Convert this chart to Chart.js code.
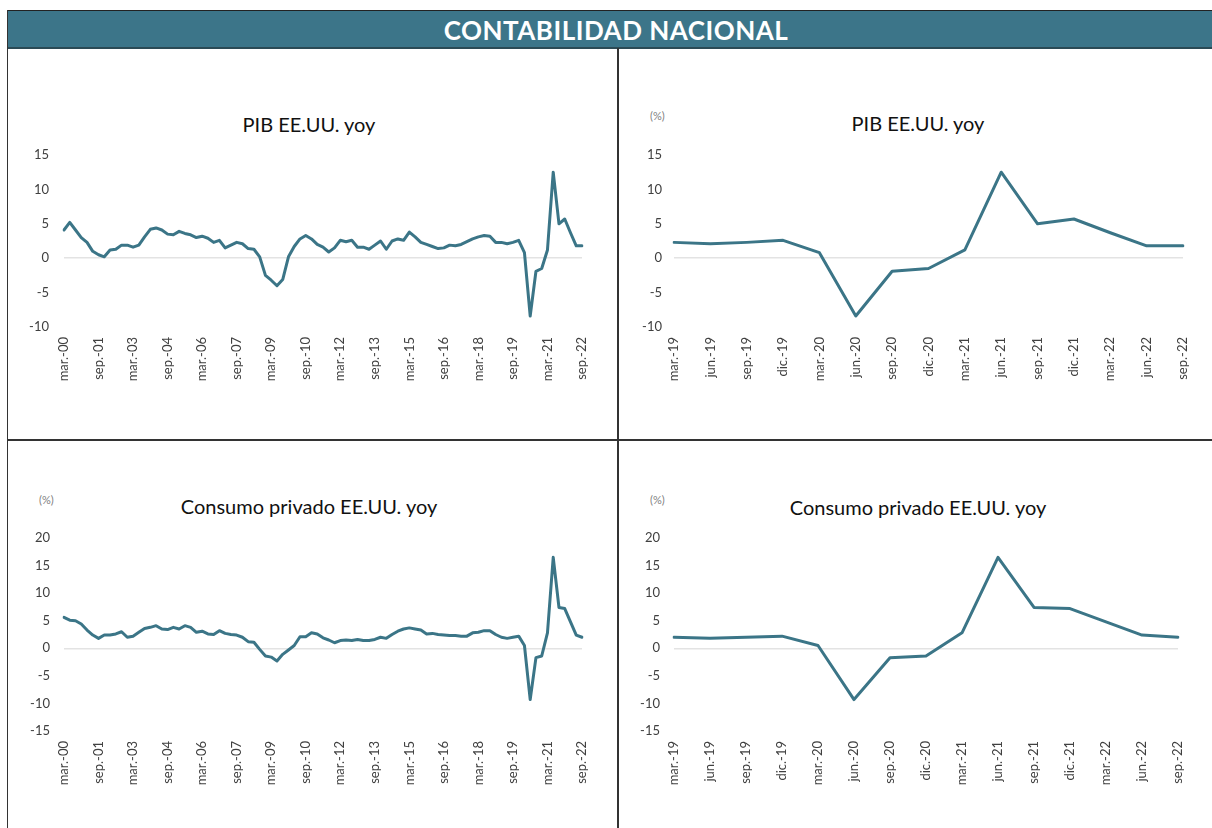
<!DOCTYPE html>
<html lang="es">
<head>
<meta charset="utf-8">
<title>Contabilidad nacional</title>
<script src="https://cdn.jsdelivr.net/npm/chart.js@4.4.0/dist/chart.umd.min.js"></script>
<style>
  body { margin: 0; width: 1212px; height: 828px; overflow: hidden; background: #fff; position: relative; font-family: Lato, "Open Sans", sans-serif; }
  .linea { position: absolute; background: #333; }
  .cabecera { position: absolute; left: 7px; top: 10px; width: 1218px; height: 36px; background: #3c7589;
    border-top: 1px solid #222; border-bottom: 2px solid #2b4a55; color: #fff; font-weight: 700; font-size: 26px;
    text-align: center; line-height: 38px; letter-spacing: 0.5px; }
  .titulo { position: absolute; width: 500px; text-align: center; font-size: 20px; color: #111; line-height: 22px; }
  .unidad { position: absolute; font-size: 11px; color: #7f7f7f; }
  canvas { position: absolute; }
</style>
</head>
<body>
<div class="cabecera">CONTABILIDAD NACIONAL</div>
<div class="linea" style="left:7px; top:10px; width:1px; height:818px;"></div>
<div class="linea" style="left:617px; top:48px; width:2px; height:780px;"></div>
<div class="linea" style="left:7px; top:439px; width:1205px; height:2px;"></div>

<div class="titulo" style="left:59px; top:113px;">PIB EE.UU. yoy</div>
<div class="titulo" style="left:668px; top:112px;">PIB EE.UU. yoy</div>
<div class="unidad" style="left:650px; top:109px;">(%)</div>
<div class="titulo" style="left:59px; top:495px;">Consumo privado EE.UU. yoy</div>
<div class="unidad" style="left:39px; top:493px;">(%)</div>
<div class="titulo" style="left:668px; top:496px;">Consumo privado EE.UU. yoy</div>
<div class="unidad" style="left:650px; top:493px;">(%)</div>

<canvas id="pibLargo" width="608" height="390" style="left:9px; top:49px;"></canvas>
<canvas id="pibCorto" width="592" height="390" style="left:620px; top:49px;"></canvas>
<canvas id="consumoLargo" width="608" height="386" style="left:9px; top:442px;"></canvas>
<canvas id="consumoCorto" width="592" height="386" style="left:620px; top:442px;"></canvas>

<script>
// Trimestres: mar.-00 ... sep.-22
const meses = ["mar.", "jun.", "sep.", "dic."];
const trimestres = [];
for (let a = 2000; a <= 2022; a++) {
  meses.forEach(m => trimestres.push(`${m}-${String(a % 100).padStart(2, "0")}`));
}
trimestres.length = 91;
const trimestresCortos = trimestres.slice(76);

// PIB EE.UU. variación interanual (%)
const pib = [
  4.1, 5.2, 4.1, 3.0,   2.3, 1.0, 0.5, 0.2,   1.2, 1.3, 1.9, 1.9,   1.6, 1.9, 3.1, 4.2,
  4.4, 4.1, 3.5, 3.4,   3.9, 3.6, 3.4, 3.0,   3.2, 2.9, 2.3, 2.6,   1.5, 1.9, 2.3, 2.1,
  1.4, 1.3, 0.2, -2.5,  -3.2, -4.0, -3.1, 0.2, 1.7, 2.8, 3.3, 2.8,  2.0, 1.6, 0.9, 1.5,
  2.6, 2.4, 2.6, 1.6,   1.6, 1.3, 1.9, 2.5,   1.3, 2.5, 2.8, 2.6,   3.8, 3.1, 2.3, 2.0,
  1.7, 1.4, 1.5, 1.9,   1.8, 2.0, 2.4, 2.8,   3.1, 3.3, 3.2, 2.3,   2.3, 2.1, 2.3, 2.6,
  0.8, -8.4, -1.9, -1.5, 1.2, 12.5, 5.0, 5.7, 3.7, 1.8, 1.8
];

// Consumo privado EE.UU. variación interanual (%)
const consumo = [
  5.6, 5.1, 5.0, 4.4,   3.3, 2.4, 1.8, 2.4,   2.4, 2.6, 3.0, 2.0,   2.2, 2.9, 3.6, 3.8,
  4.1, 3.5, 3.4, 3.8,   3.5, 4.1, 3.8, 2.9,   3.1, 2.6, 2.5, 3.2,   2.7, 2.5, 2.4, 2.0,
  1.2, 1.1, -0.2, -1.4, -1.6, -2.3, -1.1, -0.3, 0.5, 2.1, 2.1, 2.8,  2.6, 1.9, 1.5, 1.0,
  1.4, 1.5, 1.4, 1.6,   1.4, 1.4, 1.6, 2.0,   1.8, 2.5, 3.1, 3.5,   3.7, 3.5, 3.3, 2.6,
  2.7, 2.5, 2.4, 2.3,   2.3, 2.2, 2.2, 2.8,   2.9, 3.2, 3.2, 2.5,   2.0, 1.8, 2.0, 2.2,
  0.5, -9.3, -1.7, -1.4, 2.8, 16.5, 7.4, 7.2, 4.8, 2.4, 2.0
];

const colorLinea = "#3b7587";
const fuente = { family: "Lato, 'Open Sans', sans-serif", size: 13 };

// caja = canvas en la página, area = zona del gráfico en la página
function crearGrafico(id, caja, area, etiquetas, valores, yMin, yMax, cada, bordeEtiquetaY) {
  const anchoY = 40, altoX = 70;
  new Chart(document.getElementById(id), {
    type: "line",
    data: {
      labels: etiquetas,
      datasets: [{
        data: valores, borderColor: colorLinea, borderWidth: 3, pointRadius: 0, tension: 0, fill: false,
        borderJoinStyle: "round", borderCapStyle: "round"
      }]
    },
    options: {
      responsive: false,
      animation: false,
      layout: {
        padding: {
          left: area.l - caja.x - anchoY,
          top: area.t - caja.y,
          right: caja.x + caja.w - area.r,
          bottom: caja.y + caja.h - area.b - altoX
        }
      },
      plugins: { legend: { display: false }, tooltip: { enabled: false }, title: { display: false } },
      scales: {
        x: {
          offset: false,
          afterFit: s => { s.height = altoX; },
          grid: { display: false },
          border: { display: false },
          ticks: {
            autoSkip: false, minRotation: 90, maxRotation: 90, padding: 2,
            color: "#404040", font: fuente,
            callback: (v, i) => (i % cada === 0 ? etiquetas[i] : null)
          }
        },
        y: {
          min: yMin, max: yMax,
          afterFit: s => { s.width = anchoY; },
          border: { display: false },
          grid: {
            drawTicks: false,
            lineWidth: 1.5,
            color: c => (c.tick && c.tick.value === 0 ? "#e3e3e3" : "transparent")
          },
          ticks: { stepSize: 5, padding: area.l - bordeEtiquetaY, color: "#404040", font: fuente }
        }
      }
    }
  });
}

crearGrafico("pibLargo", { x: 9, y: 49, w: 608, h: 390 }, { l: 64, t: 155, r: 582, b: 327 },
  trimestres, pib, -10, 15, 6, 49);
crearGrafico("pibCorto", { x: 620, y: 49, w: 592, h: 390 }, { l: 674, t: 155, r: 1183, b: 327 },
  trimestresCortos, pib.slice(76), -10, 15, 1, 662);
crearGrafico("consumoLargo", { x: 9, y: 442, w: 608, h: 386 }, { l: 64, t: 538, r: 582, b: 731 },
  trimestres, consumo, -15, 20, 6, 50);
crearGrafico("consumoCorto", { x: 620, y: 442, w: 592, h: 386 }, { l: 674, t: 538, r: 1178, b: 731 },
  trimestresCortos, consumo.slice(76), -15, 20, 1, 660);
</script>
</body>
</html>
